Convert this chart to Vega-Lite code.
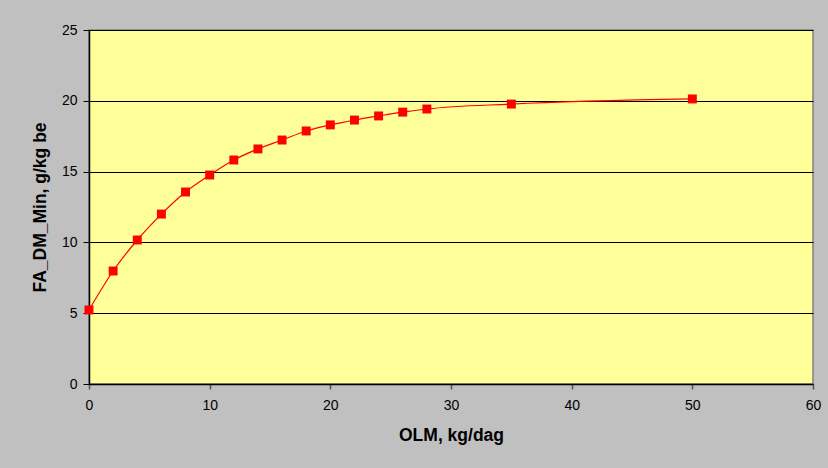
{
  "$schema": "https://vega.github.io/schema/vega-lite/v6.json",
  "width": 724,
  "height": 354,
  "autosize": {"type": "none"},
  "padding": {"left": 89, "top": 30, "right": 15, "bottom": 84},
  "background": "#C0C0C0",
  "config": {
    "view": {"fill": "#FFFF99", "stroke": "#808080", "strokeWidth": 1.5},
    "font": "Liberation Sans",
    "axis": {
      "labelFont": "Liberation Sans",
      "titleFont": "Liberation Sans",
      "labelFontSize": 14,
      "titleFontSize": 17.5,
      "titleFontWeight": "bold",
      "labelColor": "#000000",
      "titleColor": "#000000",
      "domainColor": "#000000",
      "tickColor": "#000000",
      "gridColor": "#000000",
      "gridOpacity": 1
    }
  },
  "data": {
    "values": [
      {"olm": 0, "fa": 5.23},
      {"olm": 2, "fa": 7.98},
      {"olm": 4, "fa": 10.17},
      {"olm": 6, "fa": 12.0},
      {"olm": 8, "fa": 13.56},
      {"olm": 10, "fa": 14.76},
      {"olm": 12, "fa": 15.82},
      {"olm": 14, "fa": 16.6},
      {"olm": 16, "fa": 17.23},
      {"olm": 18, "fa": 17.87},
      {"olm": 20, "fa": 18.3},
      {"olm": 22, "fa": 18.64},
      {"olm": 24, "fa": 18.93},
      {"olm": 26, "fa": 19.2},
      {"olm": 28, "fa": 19.42},
      {"olm": 35, "fa": 19.77},
      {"olm": 50, "fa": 20.13}
    ]
  },
  "encoding": {
    "x": {
      "field": "olm",
      "type": "quantitative",
      "scale": {"domain": [0, 60], "nice": false},
      "axis": {
        "title": "OLM, kg/dag",
        "values": [0, 10, 20, 30, 40, 50, 60],
        "grid": false,
        "tickSize": 5,
        "tickColor": "#555555",
        "tickWidth": 1.5,
        "labelPadding": 9,
        "titlePadding": 14,
        "domainWidth": 1.5,
        "labelFlush": false
      }
    },
    "y": {
      "field": "fa",
      "type": "quantitative",
      "scale": {"domain": [0, 25], "nice": false},
      "axis": {
        "title": "FA_DM_Min, g/kg be",
        "values": [0, 5, 10, 15, 20, 25],
        "gridWidth": 1,
        "tickSize": 6,
        "labelPadding": 6,
        "titlePadding": 12,
        "domainWidth": 1.5
      }
    }
  },
  "layer": [
    {
      "mark": {"type": "line", "color": "#FF0000", "strokeWidth": 1.2, "interpolate": "monotone"}
    },
    {
      "mark": {"type": "square", "color": "#FF0000", "filled": true, "opacity": 1, "size": 80}
    }
  ]
}
